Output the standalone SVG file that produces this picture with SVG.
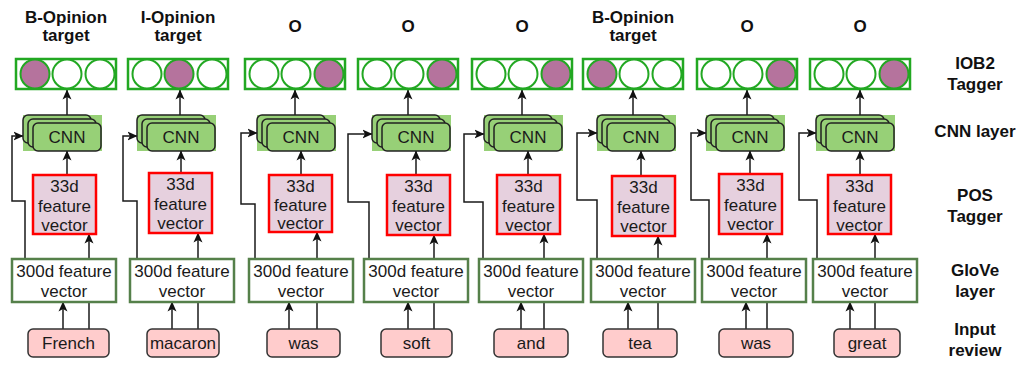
<svg xmlns="http://www.w3.org/2000/svg" width="1021" height="365" viewBox="0 0 1021 365">
<style>
text{font-family:"Liberation Sans",Arial,sans-serif;font-size:17px;fill:#1a1a1a;text-anchor:middle}
.b{font-weight:bold;fill:#111}
.tag{fill:#fff;stroke:#22a822;stroke-width:2.5}
.c0{fill:#fff;stroke:#22a822;stroke-width:2}
.c1{fill:#b5739d;stroke:#22a822;stroke-width:2}
.cnnbg{fill:#97d077}
.cnn{fill:#97d077;stroke:#222;stroke-width:1.5}
.pos{fill:#e6d0de;stroke:#ff0000;stroke-width:2.5}
.glove{fill:#fff;stroke:#55804a;stroke-width:2.5}
.inp{fill:#ffcccc;stroke:#333;stroke-width:1.5}
.ln{fill:none;stroke:#1a1a1a;stroke-width:1.5;marker-end:url(#ah)}
.pl{fill:none;stroke:#1a1a1a;stroke-width:1.5}
</style>
<defs>
<marker id="ah" viewBox="0 0 10 10" refX="9.5" refY="5" markerWidth="10" markerHeight="10" markerUnits="userSpaceOnUse" orient="auto">
<path d="M0,0.5 L10,5 L0,9.5 L2.5,5 z" fill="#111"/>
</marker>
</defs>

<g id="connectors">
<!-- col1 -->
<path class="ln" d="M67,115 V90"/>
<path class="ln" d="M67,175 V151"/>
<path class="ln" d="M89,329 V234"/>
<path class="ln" d="M63,329 V302"/>
<path class="ln" d="M25,259 V201 H12 V136 H23"/>
<!-- col2 -->
<path class="ln" d="M180,115 V90"/>
<path class="ln" d="M181,173 V151"/>
<path class="ln" d="M198,329 V233"/>
<path class="ln" d="M172,329 V302"/>
<path class="ln" d="M137,259 V201 H123 V136 H137"/>
<!-- col3 -->
<path class="ln" d="M295,115 V90"/>
<path class="ln" d="M301,175 V151"/>
<path class="ln" d="M317,329 V232"/>
<path class="ln" d="M289,329 V302"/>
<path class="ln" d="M255,259 V204 H241 V133 H257"/>
<!-- col4 -->
<path class="ln" d="M408,115 V90"/>
<path class="ln" d="M416,175 V151"/>
<path class="ln" d="M434,329 V235"/>
<path class="ln" d="M408,329 V302"/>
<path class="ln" d="M369,259 V202 H348 V134 H372"/>
<!-- col5 -->
<path class="ln" d="M522,115 V90"/>
<path class="ln" d="M528,175 V151"/>
<path class="ln" d="M544,329 V234"/>
<path class="ln" d="M521,329 V302"/>
<path class="ln" d="M483,259 V202 H464 V134 H484"/>
<!-- col6 -->
<path class="ln" d="M633,115 V90"/>
<path class="ln" d="M641,176 V151"/>
<path class="ln" d="M658,329 V236"/>
<path class="ln" d="M628,329 V302"/>
<path class="ln" d="M597,259 V200 H577 V133 H597"/>
<!-- col7 -->
<path class="ln" d="M747,115 V90"/>
<path class="ln" d="M750,174 V151"/>
<path class="ln" d="M767,329 V234"/>
<path class="ln" d="M746,329 V302"/>
<path class="ln" d="M709,259 V200 H691 V133 H706"/>
<!-- col8 -->
<path class="ln" d="M860,115 V90"/>
<path class="ln" d="M860,175 V151"/>
<path class="ln" d="M875,329 V234"/>
<path class="ln" d="M850,329 V302"/>
<path class="ln" d="M817,259 V200 H799 V133 H816"/>
</g>

<!-- Column 1 -->
<g id="title1"><text class="b" x="66" y="23">B-Opinion</text><text class="b" x="66" y="41">target</text></g>
<g id="tagger1"><rect class="tag" x="16" y="59" width="100" height="30"/><circle class="c1" cx="35" cy="74" r="14.5"/><circle class="c0" cx="67" cy="74" r="14.5"/><circle class="c0" cx="100" cy="74" r="14.5"/></g>
<g id="cnn1"><rect class="cnnbg" x="23" y="115" width="79" height="36"/><rect class="cnn" x="23" y="115" width="68" height="28" rx="5"/><rect class="cnn" x="28" y="119" width="68" height="28" rx="5"/><rect class="cnn" x="33" y="123" width="68" height="28" rx="5"/><text x="67" y="143">CNN</text></g>
<g id="pos1"><rect class="pos" x="33" y="175" width="63" height="59"/><text x="64.5" y="192">33d</text><text x="64.5" y="212">feature</text><text x="64.5" y="231">vector</text></g>
<g id="glove1"><rect class="glove" x="12" y="259" width="104" height="43"/><text x="64" y="277">300d feature</text><text x="64" y="297">vector</text></g>
<g id="input1"><rect class="inp" x="28" y="329" width="81" height="28" rx="5"/><text x="68.5" y="349">French</text></g>

<!-- Column 2 -->
<g id="title2"><text class="b" x="178" y="23">I-Opinion</text><text class="b" x="178" y="41">target</text></g>
<g id="tagger2"><rect class="tag" x="128" y="59" width="100" height="30"/><circle class="c0" cx="147" cy="74" r="14.5"/><circle class="c1" cx="179" cy="74" r="14.5"/><circle class="c0" cx="212" cy="74" r="14.5"/></g>
<g id="cnn2"><rect class="cnnbg" x="137" y="115" width="79" height="36"/><rect class="cnn" x="137" y="115" width="68" height="28" rx="5"/><rect class="cnn" x="142" y="119" width="68" height="28" rx="5"/><rect class="cnn" x="147" y="123" width="68" height="28" rx="5"/><text x="181" y="143">CNN</text></g>
<g id="pos2"><rect class="pos" x="149" y="173" width="63" height="60"/><text x="180.5" y="190">33d</text><text x="180.5" y="210">feature</text><text x="180.5" y="229">vector</text></g>
<g id="glove2"><rect class="glove" x="130" y="259" width="104" height="43"/><text x="182" y="277">300d feature</text><text x="182" y="297">vector</text></g>
<g id="input2"><rect class="inp" x="147" y="329" width="72" height="28" rx="5"/><text x="183" y="349">macaron</text></g>

<!-- Column 3 -->
<g id="title3"><text class="b" x="295" y="32">O</text></g>
<g id="tagger3"><rect class="tag" x="245" y="59" width="100" height="30"/><circle class="c0" cx="264" cy="74" r="14.5"/><circle class="c0" cx="296" cy="74" r="14.5"/><circle class="c1" cx="329" cy="74" r="14.5"/></g>
<g id="cnn3"><rect class="cnnbg" x="257" y="115" width="79" height="36"/><rect class="cnn" x="257" y="115" width="68" height="28" rx="5"/><rect class="cnn" x="262" y="119" width="68" height="28" rx="5"/><rect class="cnn" x="267" y="123" width="68" height="28" rx="5"/><text x="301" y="143">CNN</text></g>
<g id="pos3"><rect class="pos" x="269" y="175" width="63" height="57"/><text x="300.5" y="192">33d</text><text x="300.5" y="211">feature</text><text x="300.5" y="229">vector</text></g>
<g id="glove3"><rect class="glove" x="249" y="259" width="104" height="43"/><text x="301" y="277">300d feature</text><text x="301" y="297">vector</text></g>
<g id="input3"><rect class="inp" x="267" y="329" width="73" height="28" rx="5"/><text x="303.5" y="349">was</text></g>

<!-- Column 4 -->
<g id="title4"><text class="b" x="408" y="32">O</text></g>
<g id="tagger4"><rect class="tag" x="358" y="59" width="100" height="30"/><circle class="c0" cx="377" cy="74" r="14.5"/><circle class="c0" cx="409" cy="74" r="14.5"/><circle class="c1" cx="442" cy="74" r="14.5"/></g>
<g id="cnn4"><rect class="cnnbg" x="372" y="115" width="79" height="36"/><rect class="cnn" x="372" y="115" width="68" height="28" rx="5"/><rect class="cnn" x="377" y="119" width="68" height="28" rx="5"/><rect class="cnn" x="382" y="123" width="68" height="28" rx="5"/><text x="416" y="143">CNN</text></g>
<g id="pos4"><rect class="pos" x="387" y="175" width="63" height="60"/><text x="418.5" y="192">33d</text><text x="418.5" y="212">feature</text><text x="418.5" y="231">vector</text></g>
<g id="glove4"><rect class="glove" x="364" y="259" width="104" height="43"/><text x="416" y="277">300d feature</text><text x="416" y="297">vector</text></g>
<g id="input4"><rect class="inp" x="381" y="329" width="71" height="28" rx="5"/><text x="416.5" y="349">soft</text></g>

<!-- Column 5 -->
<g id="title5"><text class="b" x="522" y="32">O</text></g>
<g id="tagger5"><rect class="tag" x="472" y="59" width="100" height="30"/><circle class="c0" cx="491" cy="74" r="14.5"/><circle class="c0" cx="523" cy="74" r="14.5"/><circle class="c1" cx="556" cy="74" r="14.5"/></g>
<g id="cnn5"><rect class="cnnbg" x="484" y="115" width="79" height="36"/><rect class="cnn" x="484" y="115" width="68" height="28" rx="5"/><rect class="cnn" x="489" y="119" width="68" height="28" rx="5"/><rect class="cnn" x="494" y="123" width="68" height="28" rx="5"/><text x="528" y="143">CNN</text></g>
<g id="pos5"><rect class="pos" x="497" y="175" width="63" height="59"/><text x="528.5" y="192">33d</text><text x="528.5" y="212">feature</text><text x="528.5" y="231">vector</text></g>
<g id="glove5"><rect class="glove" x="479" y="259" width="104" height="43"/><text x="531" y="277">300d feature</text><text x="531" y="297">vector</text></g>
<g id="input5"><rect class="inp" x="494" y="329" width="74" height="28" rx="5"/><text x="531" y="349">and</text></g>

<!-- Column 6 -->
<g id="title6"><text class="b" x="633" y="23">B-Opinion</text><text class="b" x="633" y="41">target</text></g>
<g id="tagger6"><rect class="tag" x="583" y="59" width="100" height="30"/><circle class="c1" cx="602" cy="74" r="14.5"/><circle class="c0" cx="634" cy="74" r="14.5"/><circle class="c0" cx="667" cy="74" r="14.5"/></g>
<g id="cnn6"><rect class="cnnbg" x="597" y="115" width="79" height="36"/><rect class="cnn" x="597" y="115" width="68" height="28" rx="5"/><rect class="cnn" x="602" y="119" width="68" height="28" rx="5"/><rect class="cnn" x="607" y="123" width="68" height="28" rx="5"/><text x="641" y="143">CNN</text></g>
<g id="pos6"><rect class="pos" x="612" y="176" width="63" height="60"/><text x="643.5" y="193">33d</text><text x="643.5" y="213">feature</text><text x="643.5" y="232">vector</text></g>
<g id="glove6"><rect class="glove" x="591" y="259" width="104" height="43"/><text x="643" y="277">300d feature</text><text x="643" y="297">vector</text></g>
<g id="input6"><rect class="inp" x="603" y="329" width="74" height="28" rx="5"/><text x="640" y="349">tea</text></g>

<!-- Column 7 -->
<g id="title7"><text class="b" x="747" y="32">O</text></g>
<g id="tagger7"><rect class="tag" x="697" y="59" width="100" height="30"/><circle class="c0" cx="716" cy="74" r="14.5"/><circle class="c0" cx="748" cy="74" r="14.5"/><circle class="c1" cx="781" cy="74" r="14.5"/></g>
<g id="cnn7"><rect class="cnnbg" x="706" y="115" width="79" height="36"/><rect class="cnn" x="706" y="115" width="68" height="28" rx="5"/><rect class="cnn" x="711" y="119" width="68" height="28" rx="5"/><rect class="cnn" x="716" y="123" width="68" height="28" rx="5"/><text x="750" y="143">CNN</text></g>
<g id="pos7"><rect class="pos" x="719" y="174" width="63" height="60"/><text x="750.5" y="191">33d</text><text x="750.5" y="211">feature</text><text x="750.5" y="230">vector</text></g>
<g id="glove7"><rect class="glove" x="702" y="259" width="104" height="43"/><text x="754" y="277">300d feature</text><text x="754" y="297">vector</text></g>
<g id="input7"><rect class="inp" x="719" y="329" width="74" height="28" rx="5"/><text x="756" y="349">was</text></g>

<!-- Column 8 -->
<g id="title8"><text class="b" x="860" y="32">O</text></g>
<g id="tagger8"><rect class="tag" x="810" y="59" width="100" height="30"/><circle class="c0" cx="829" cy="74" r="14.5"/><circle class="c0" cx="861" cy="74" r="14.5"/><circle class="c1" cx="894" cy="74" r="14.5"/></g>
<g id="cnn8"><rect class="cnnbg" x="816" y="115" width="79" height="36"/><rect class="cnn" x="816" y="115" width="68" height="28" rx="5"/><rect class="cnn" x="821" y="119" width="68" height="28" rx="5"/><rect class="cnn" x="826" y="123" width="68" height="28" rx="5"/><text x="860" y="143">CNN</text></g>
<g id="pos8"><rect class="pos" x="828" y="175" width="63" height="59"/><text x="859.5" y="192">33d</text><text x="859.5" y="212">feature</text><text x="859.5" y="231">vector</text></g>
<g id="glove8"><rect class="glove" x="813" y="259" width="104" height="43"/><text x="865" y="277">300d feature</text><text x="865" y="297">vector</text></g>
<g id="input8"><rect class="inp" x="834" y="329" width="66" height="28" rx="5"/><text x="867" y="349">great</text></g>

<!-- Layer labels -->
<g id="labels">
<text class="b" x="975" y="69">IOB2</text><text class="b" x="975" y="90">Tagger</text>
<text class="b" x="975" y="137">CNN layer</text>
<text class="b" x="975" y="201">POS</text><text class="b" x="975" y="222">Tagger</text>
<text class="b" x="975" y="276">GloVe</text><text class="b" x="975" y="297">layer</text>
<text class="b" x="975" y="335">Input</text><text class="b" x="975" y="356">review</text>
</g>
</svg>
